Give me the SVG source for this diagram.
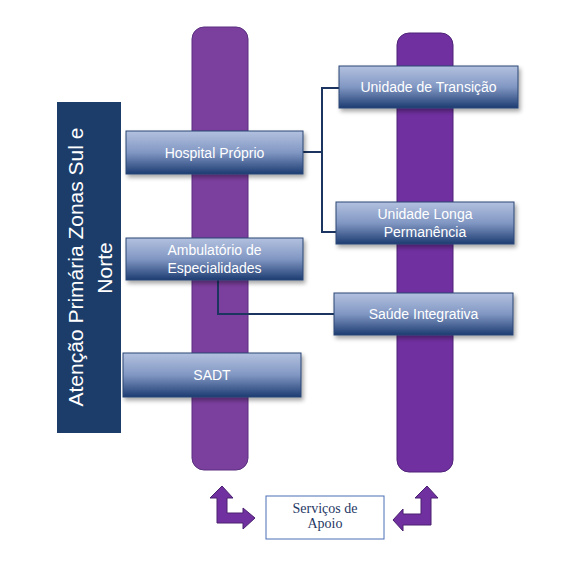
<svg xmlns="http://www.w3.org/2000/svg" width="567" height="568" viewBox="0 0 567 568">
<style>
.box{stroke:#2b4675;stroke-width:1;fill:url(#g)}
.bt{font-family:"Liberation Sans",Arial,sans-serif;font-size:14px;fill:#ffffff;text-anchor:middle}
.conn{fill:none;stroke:#1c3460;stroke-width:2}
.arrow{fill:#7030a0;stroke:#4a2070;stroke-width:1}
</style>
<defs>
<linearGradient id="g" x1="0" y1="0" x2="0" y2="1">
<stop offset="0" stop-color="#b3c1df"/>
<stop offset="0.5" stop-color="#8197c3"/>
<stop offset="1" stop-color="#1d3c72"/>
</linearGradient>
<linearGradient id="pl" x1="0" y1="0" x2="0" y2="1">
<stop offset="0" stop-color="#7a3f9e"/>
<stop offset="1" stop-color="#7a3f9e"/>
</linearGradient>
<filter id="sh" x="-10%" y="-20%" width="125%" height="150%">
<feDropShadow dx="2" dy="3" stdDeviation="2" flood-color="#000" flood-opacity="0.35"/>
</filter>
</defs>
<rect width="567" height="568" fill="#ffffff"/>
<g id="bar-left"><rect x="192" y="27" width="56" height="443" rx="12" fill="#7b3f9e" stroke="#5a2f80" stroke-width="1"/></g>
<g id="bar-right"><rect x="397" y="33" width="56" height="439" rx="12" fill="#7030a0" stroke="#4f2378" stroke-width="1"/></g>
<g id="atencao">
<rect x="57" y="102" width="64" height="331" fill="#1c3d6a"/>
<text class="bt" style="font-size:21px" transform="translate(83,267) rotate(-90)">Atenção Primária Zonas Sul e</text>
<text class="bt" style="font-size:21px" transform="translate(112,268) rotate(-90)">Norte</text>
</g>
<g id="connectors">
<polyline class="conn" points="303,152 322,152"/>
<polyline class="conn" points="339,88 322,88 322,232 336,232"/>
<polyline class="conn" points="218,280 218,314 334,314"/>
</g>
<g id="hospital"><rect class="box" x="126" y="131" width="177" height="43" filter="url(#sh)"/><text class="bt" x="214.5" y="157.5">Hospital Próprio</text></g>
<g id="ambulatorio"><rect class="box" x="126" y="238" width="177" height="42" filter="url(#sh)"/><text class="bt" x="214.5" y="255">Ambulatório de</text><text class="bt" x="214.5" y="273">Especialidades</text></g>
<g id="sadt"><rect class="box" x="123" y="353" width="178" height="44" filter="url(#sh)"/><text class="bt" x="212" y="380">SADT</text></g>
<g id="transicao"><rect class="box" x="339" y="66" width="179" height="42" filter="url(#sh)"/><text class="bt" x="428.5" y="92">Unidade de Transição</text></g>
<g id="longa"><rect class="box" x="336" y="202" width="178" height="42" filter="url(#sh)"/><text class="bt" x="425" y="219">Unidade Longa</text><text class="bt" x="425" y="237">Permanência</text></g>
<g id="integrativa"><rect class="box" x="334" y="293" width="179" height="42" filter="url(#sh)"/><text class="bt" x="423.5" y="319">Saúde Integrativa</text></g>
<g id="servicos">
<rect x="266" y="496" width="118" height="43" fill="#ffffff" stroke="#4a6eb5" stroke-width="1"/>
<text x="325" y="513" font-family="Liberation Serif,'Times New Roman',serif" font-size="14" fill="#1f3864" text-anchor="middle">Serviços de</text>
<text x="325" y="528" font-family="Liberation Serif,'Times New Roman',serif" font-size="14" fill="#1f3864" text-anchor="middle">Apoio</text>
</g>
<g id="arrows">
<polygon class="arrow" points="222,486 233,498 227,498 227,513 243,513 243,508 255,518 243,529 243,523 217,523 217,498 210,498"/>
<polygon class="arrow" points="427,486 438,498 431,498 431,525 403,525 403,531 393,520 403,509 403,514 421,514 421,498 415,498"/>
</g>
</svg>
